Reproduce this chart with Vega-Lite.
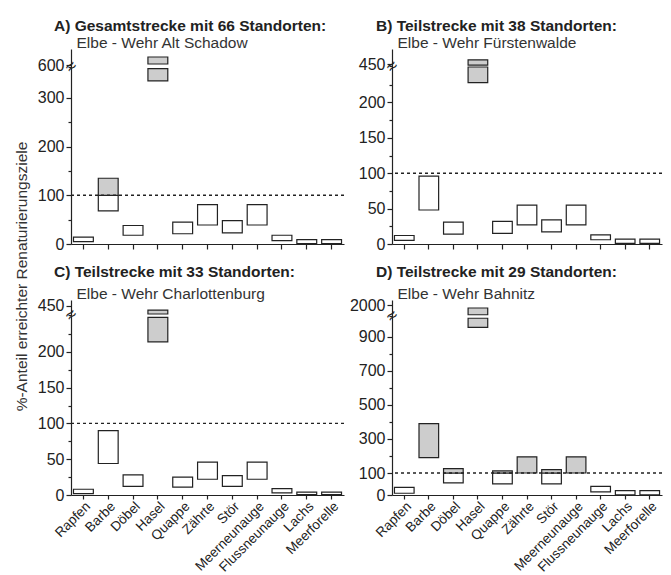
{
  "$schema": "https://vega.github.io/schema/vega-lite/v6.json",
  "padding": {"left": 14, "top": 18, "right": 5, "bottom": 2},
  "bounds": "flush",
  "columns": 2,
  "spacing": {"row": 56, "column": 48},
  "config": {
    "view": {"stroke": null},
    "font": "Liberation Sans",
    "axis": {"domainColor": "#222", "tickColor": "#222", "labelColor": "#222", "labelFont": "Liberation Sans", "labelFontSize": 16, "grid": false, "tickSize": 5, "domainWidth": 1.2, "tickWidth": 1.2, "titleFont": "Liberation Sans", "titleColor": "#333", "titleFontWeight": "normal", "titleFontSize": 15.5, "labelOverlap": false},
    "axisX": {"titleX": 5, "titleY": -197, "titleAlign": "left", "titleAnchor": "start", "titleAngle": 0, "titleBaseline": "alphabetic", "titleFontSize": 15.5},
    "title": {"font": "Liberation Sans", "fontSize": 15.5, "fontWeight": "bold", "color": "#222", "anchor": "start", "frame": "group", "baseline": "alphabetic", "offset": 1, "dx": -17}
  },
  "datasets": {
    "A": [
      {"fisch": "Rapfen", "von": 5, "bis": 14, "teil": "unter"},
      {"fisch": "Barbe", "von": 68, "bis": 100, "teil": "unter"},
      {"fisch": "Barbe", "von": 100, "bis": 135, "teil": "über"},
      {"fisch": "Döbel", "von": 18, "bis": 38, "teil": "unter"},
      {"fisch": "Hasel", "von": 335, "bis": 360, "teil": "über"},
      {"fisch": "Hasel", "von": 605, "bis": 640, "teil": "über"},
      {"fisch": "Quappe", "von": 21, "bis": 45, "teil": "unter"},
      {"fisch": "Zährte", "von": 39, "bis": 81, "teil": "unter"},
      {"fisch": "Stör", "von": 23, "bis": 48, "teil": "unter"},
      {"fisch": "Meerneunauge", "von": 39, "bis": 81, "teil": "unter"},
      {"fisch": "Flussneunauge", "von": 7, "bis": 18, "teil": "unter"},
      {"fisch": "Lachs", "von": 1, "bis": 9, "teil": "unter"},
      {"fisch": "Meerforelle", "von": 1, "bis": 9, "teil": "unter"}
    ],
    "B": [
      {"fisch": "Rapfen", "von": 5, "bis": 12, "teil": "unter"},
      {"fisch": "Barbe", "von": 48, "bis": 96, "teil": "unter"},
      {"fisch": "Döbel", "von": 14, "bis": 31, "teil": "unter"},
      {"fisch": "Hasel", "von": 228, "bis": 250, "teil": "über"},
      {"fisch": "Hasel", "von": 448, "bis": 465, "teil": "über"},
      {"fisch": "Quappe", "von": 15, "bis": 32, "teil": "unter"},
      {"fisch": "Zährte", "von": 27, "bis": 55, "teil": "unter"},
      {"fisch": "Stör", "von": 17, "bis": 34, "teil": "unter"},
      {"fisch": "Meerneunauge", "von": 27, "bis": 55, "teil": "unter"},
      {"fisch": "Flussneunauge", "von": 6, "bis": 13, "teil": "unter"},
      {"fisch": "Lachs", "von": 1, "bis": 7, "teil": "unter"},
      {"fisch": "Meerforelle", "von": 1, "bis": 7, "teil": "unter"}
    ],
    "C": [
      {"fisch": "Rapfen", "von": 2, "bis": 8, "teil": "unter"},
      {"fisch": "Barbe", "von": 44, "bis": 90, "teil": "unter"},
      {"fisch": "Döbel", "von": 12, "bis": 28, "teil": "unter"},
      {"fisch": "Hasel", "von": 214, "bis": 248, "teil": "über"},
      {"fisch": "Hasel", "von": 420, "bis": 434, "teil": "über"},
      {"fisch": "Quappe", "von": 11, "bis": 25, "teil": "unter"},
      {"fisch": "Zährte", "von": 22, "bis": 46, "teil": "unter"},
      {"fisch": "Stör", "von": 12, "bis": 27, "teil": "unter"},
      {"fisch": "Meerneunauge", "von": 22, "bis": 46, "teil": "unter"},
      {"fisch": "Flussneunauge", "von": 3, "bis": 9, "teil": "unter"},
      {"fisch": "Lachs", "von": 0.5, "bis": 4, "teil": "unter"},
      {"fisch": "Meerforelle", "von": 0.5, "bis": 4, "teil": "unter"}
    ],
    "D": [
      {"fisch": "Rapfen", "von": 8, "bis": 35, "teil": "unter"},
      {"fisch": "Barbe", "von": 190, "bis": 389, "teil": "über"},
      {"fisch": "Döbel", "von": 55, "bis": 100, "teil": "unter"},
      {"fisch": "Döbel", "von": 100, "bis": 126, "teil": "über"},
      {"fisch": "Hasel", "von": 954, "bis": 1007, "teil": "über"},
      {"fisch": "Hasel", "von": 1805, "bis": 1940, "teil": "über"},
      {"fisch": "Quappe", "von": 51, "bis": 100, "teil": "unter"},
      {"fisch": "Quappe", "von": 100, "bis": 112, "teil": "über"},
      {"fisch": "Zährte", "von": 100, "bis": 195, "teil": "über"},
      {"fisch": "Stör", "von": 51, "bis": 100, "teil": "unter"},
      {"fisch": "Stör", "von": 100, "bis": 120, "teil": "über"},
      {"fisch": "Meerneunauge", "von": 100, "bis": 195, "teil": "über"},
      {"fisch": "Flussneunauge", "von": 14, "bis": 39, "teil": "unter"},
      {"fisch": "Lachs", "von": 1, "bis": 20, "teil": "unter"},
      {"fisch": "Meerforelle", "von": 1, "bis": 20, "teil": "unter"}
    ],
    "ziel": [{"ziel": 100}]
  },
  "concat": [
    {
      "width": 273, "height": 195,
      "title": {"text": "A) Gesamtstrecke mit 66 Standorten:"},
      "resolve": {"axis": {"y": "independent"}},
      "layer": [
        {
          "data": {"name": "A"},
          "mark": {"type": "bar", "stroke": "#222", "strokeWidth": 1.2},
          "encoding": {
            "x": {"field": "fisch", "type": "nominal", "sort": ["Rapfen","Barbe","Döbel","Hasel","Quappe","Zährte","Stör","Meerneunauge","Flussneunauge","Lachs","Meerforelle"], "scale": {"paddingInner": 0.2, "paddingOuter": 0.1}, "axis": {"title": "Elbe - Wehr Alt Schadow", "labels": false}},
            "y": {"field": "von", "type": "quantitative", "scale": {"domain": [0, 362, 595, 680], "range": [195, 18.7, 17, 0], "nice": false, "zero": false},
              "axis": {"values": [0, 100, 200, 300, 600], "format": "d", "labelOverlap": false,
                "title": "%-Anteil erreichter Renaturierungsziele", "titleX": -42, "titleY": 227, "titleAlign": "center", "titleAngle": -90}},
            "y2": {"field": "bis"},
            "fill": {"field": "teil", "type": "nominal", "scale": {"domain": ["unter", "über"], "range": ["#ffffff", "#cdcdcd"]}, "legend": null}
          }
        },
        {
          "data": {"name": "ziel"},
          "mark": {"type": "rule", "stroke": "#222", "strokeWidth": 1.4, "strokeDash": [3, 3]},
          "encoding": {"y": {"field": "ziel", "type": "quantitative",
            "axis": {"orient": "left", "title": null, "domain": false, "values": [50, 150, 250, 480], "tickSize": 3, "labelOverlap": false,
              "labelExpr": "datum.value == 480 ? '≈' : ''", "labelPadding": -3, "labelAlign": "center", "labelBaseline": "middle", "labelFontSize": 18, "labelAngle": -40}}}
        }
      ]
    },
    {
      "width": 270, "height": 195,
      "title": {"text": "B) Teilstrecke mit 38 Standorten:", "dx": -16},
      "resolve": {"axis": {"y": "independent"}},
      "layer": [
        {
          "data": {"name": "B"},
          "mark": {"type": "bar", "stroke": "#222", "strokeWidth": 1.2},
          "encoding": {
            "x": {"field": "fisch", "type": "nominal", "sort": ["Rapfen","Barbe","Döbel","Hasel","Quappe","Zährte","Stör","Meerneunauge","Flussneunauge","Lachs","Meerforelle"], "scale": {"paddingInner": 0.2, "paddingOuter": 0.1}, "axis": {"title": "Elbe - Wehr Fürstenwalde", "labels": false}},
            "y": {"field": "von", "type": "quantitative", "scale": {"domain": [0, 250, 445, 500], "range": [195, 18, 17, 0], "nice": false, "zero": false},
              "axis": {"values": [0, 50, 100, 150, 200, 450], "format": "d", "labelOverlap": false, "title": null}},
            "y2": {"field": "bis"},
            "fill": {"field": "teil", "type": "nominal", "scale": {"domain": ["unter", "über"], "range": ["#ffffff", "#cdcdcd"]}, "legend": null}
          }
        },
        {
          "data": {"name": "ziel"},
          "mark": {"type": "rule", "stroke": "#222", "strokeWidth": 1.4, "strokeDash": [3, 3]},
          "encoding": {"y": {"field": "ziel", "type": "quantitative",
            "axis": {"orient": "left", "title": null, "domain": false, "values": [25, 75, 125, 175, 225, 350], "tickSize": 3, "labelOverlap": false,
              "labelExpr": "datum.value == 350 ? '≈' : ''", "labelPadding": -3, "labelAlign": "center", "labelBaseline": "middle", "labelFontSize": 18, "labelAngle": -40}}}
        }
      ]
    },
    {
      "width": 273, "height": 195,
      "title": {"text": "C) Teilstrecke mit 33 Standorten:", "offset": 6},
      "resolve": {"axis": {"y": "independent"}},
      "layer": [
        {
          "data": {"name": "C"},
          "mark": {"type": "bar", "stroke": "#222", "strokeWidth": 1.2},
          "encoding": {
            "x": {"field": "fisch", "type": "nominal", "sort": ["Rapfen","Barbe","Döbel","Hasel","Quappe","Zährte","Stör","Meerneunauge","Flussneunauge","Lachs","Meerforelle"], "scale": {"paddingInner": 0.2, "paddingOuter": 0.1}, "axis": {"title": "Elbe - Wehr Charlottenburg", "labelAngle": -45, "labelFontSize": 13.5, "labelPadding": 0, "tickSize": 4}},
            "y": {"field": "von", "type": "quantitative", "scale": {"domain": [0, 250, 420, 470], "range": [195, 16, 14, 0], "nice": false, "zero": false},
              "axis": {"values": [0, 50, 100, 150, 200, 450], "format": "d", "labelOverlap": false, "title": null}},
            "y2": {"field": "bis"},
            "fill": {"field": "teil", "type": "nominal", "scale": {"domain": ["unter", "über"], "range": ["#ffffff", "#cdcdcd"]}, "legend": null}
          }
        },
        {
          "data": {"name": "ziel"},
          "mark": {"type": "rule", "stroke": "#222", "strokeWidth": 1.4, "strokeDash": [3, 3]},
          "encoding": {"y": {"field": "ziel", "type": "quantitative",
            "axis": {"orient": "left", "title": null, "domain": false, "values": [25, 75, 125, 175, 225, 335], "tickSize": 3, "labelOverlap": false,
              "labelExpr": "datum.value == 335 ? '≈' : ''", "labelPadding": -3, "labelAlign": "center", "labelBaseline": "middle", "labelFontSize": 18, "labelAngle": -40}}}
        }
      ]
    },
    {
      "width": 270, "height": 195,
      "title": {"text": "D) Teilstrecke mit 29 Standorten:", "dx": -16, "offset": 6},
      "resolve": {"axis": {"y": "independent"}},
      "layer": [
        {
          "data": {"name": "D"},
          "mark": {"type": "bar", "stroke": "#222", "strokeWidth": 1.2},
          "encoding": {
            "x": {"field": "fisch", "type": "nominal", "sort": ["Rapfen","Barbe","Döbel","Hasel","Quappe","Zährte","Stör","Meerneunauge","Flussneunauge","Lachs","Meerforelle"], "scale": {"paddingInner": 0.2, "paddingOuter": 0.1}, "axis": {"title": "Elbe - Wehr Bahnitz", "labelAngle": -45, "labelFontSize": 13.5, "labelPadding": 0, "tickSize": 4}},
            "y": {"field": "von", "type": "quantitative", "scale": {"domain": [0, 100, 1015, 1800, 2100], "range": [195, 173, 16.9, 15, 0], "nice": false, "zero": false},
              "axis": {"values": [0, 100, 300, 500, 700, 900, 2000], "format": "d", "labelOverlap": false, "title": null}},
            "y2": {"field": "bis"},
            "fill": {"field": "teil", "type": "nominal", "scale": {"domain": ["unter", "über"], "range": ["#ffffff", "#cdcdcd"]}, "legend": null}
          }
        },
        {
          "data": {"name": "ziel"},
          "mark": {"type": "rule", "stroke": "#222", "strokeWidth": 1.4, "strokeDash": [3, 3]},
          "encoding": {"y": {"field": "ziel", "type": "quantitative",
            "axis": {"orient": "left", "title": null, "domain": false, "values": [200, 400, 600, 800, 1400], "tickSize": 3, "labelOverlap": false,
              "labelExpr": "datum.value == 1400 ? '≈' : ''", "labelPadding": -3, "labelAlign": "center", "labelBaseline": "middle", "labelFontSize": 18, "labelAngle": -40}}}
        }
      ]
    }
  ]
}
